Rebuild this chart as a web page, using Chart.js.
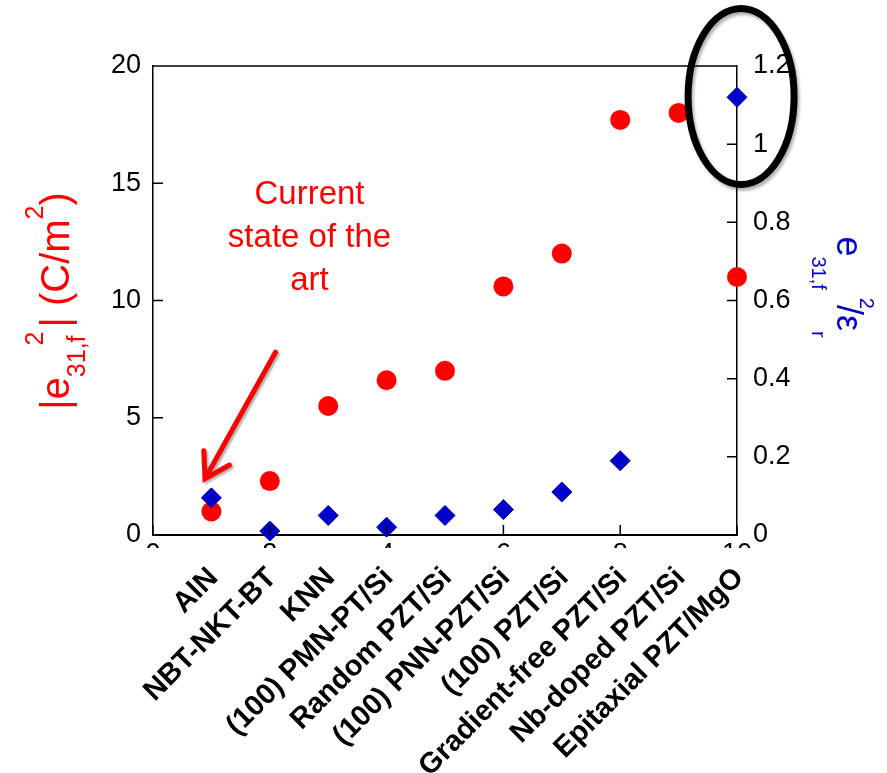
<!DOCTYPE html>
<html>
<head>
<meta charset="utf-8">
<script src="https://cdn.jsdelivr.net/npm/chart.js@4"></script>
<style>
  html, body { margin: 0; padding: 0; background: #fff; }
  #wrap { width: 887px; height: 773px; }
</style>
</head>
<body>
<div id="wrap"><canvas id="c" width="887" height="773"></canvas></div>
<script>
// films, in plotting order (x = 1..10)
const categories = ['AlN', 'NBT-NKT-BT', 'KNN', '(100) PMN-PT/Si', 'Random PZT/Si',
  '(100) PNN-PZT/Si', '(100) PZT/Si', 'Gradient-free PZT/Si', 'Nb-doped PZT/Si', 'Epitaxial PZT/MgO'];
// |e31,f|^2 (C/m2)^2, left axis
const e31Squared = [1.0, 2.3, 5.5, 6.6, 7.0, 10.6, 12.0, 17.7, 18.0, 11.0];
// e31,f^2 / eps_r, right axis (no value for Nb-doped)
const figureOfMerit = [0.095, 0.01, 0.05, 0.02, 0.05, 0.065, 0.11, 0.19, null, 1.12];
const xTickLabels = ['0', '2', '4', '6', '8', '10'];

const FONT = '"Liberation Sans", Arial, sans-serif';
const RED = '#ff0000';
const BLUE = '#0000cc';

const redPts = e31Squared.map((v, i) => ({ x: i + 1, y: v }));
const bluePts = figureOfMerit.map((v, i) => ({ x: i + 1, y: v }));

function drawRuns(ctx, runs, cx, cy, angle, color) {
  ctx.save();
  ctx.translate(cx, cy);
  ctx.rotate(angle);
  ctx.fillStyle = color;
  ctx.textAlign = 'left';
  ctx.textBaseline = 'alphabetic';
  let total = 0;
  runs.forEach(r => {
    ctx.font = r.font;
    r.w = ctx.measureText(r.t).width;
    total += r.w + (r.dx || 0);
  });
  let pos = -total / 2;
  runs.forEach(r => {
    pos += r.dx || 0;
    ctx.font = r.font;
    ctx.fillText(r.t, pos, r.dy || 0);
    pos += r.w;
  });
  ctx.restore();
}

const extras = {
  id: 'extras',
  afterDraw(chart) {
    const ctx = chart.ctx;
    const { x, y, y1 } = chart.scales;
    const a = chart.chartArea;

    // frame top + inward ticks
    ctx.save();
    ctx.strokeStyle = '#000';
    ctx.lineWidth = 1.5;
    ctx.beginPath();
    ctx.moveTo(a.left, a.top);
    ctx.lineTo(a.right, a.top);
    for (let v = 0; v <= 20; v += 5) {
      const py = y.getPixelForValue(v);
      ctx.moveTo(a.left, py); ctx.lineTo(a.left + 10, py);
    }
    for (let k = 0; k <= 6; k++) {
      const py = y1.getPixelForValue(k * 0.2);
      ctx.moveTo(a.right, py); ctx.lineTo(a.right - 10, py);
    }
    for (let v = 0; v <= 10; v += 2) {
      const px = x.getPixelForValue(v);
      ctx.moveTo(px, a.bottom); ctx.lineTo(px, a.bottom - 10);
    }
    ctx.stroke();
    ctx.restore();

    // numeric x ticks, mostly hidden behind the category labels
    ctx.save();
    ctx.beginPath();
    ctx.rect(0, a.bottom, chart.width, 13);
    ctx.clip();
    ctx.fillStyle = '#000';
    ctx.font = '27px ' + FONT;
    ctx.textAlign = 'center';
    ctx.textBaseline = 'top';
    xTickLabels.forEach(t => {
      ctx.fillText(t, x.getPixelForValue(Number(t)), a.bottom + 6);
    });
    ctx.restore();

    // category labels
    ctx.save();
    ctx.fillStyle = '#000';
    ctx.font = 'bold 29px ' + FONT;
    ctx.textAlign = 'right';
    ctx.textBaseline = 'top';
    categories.forEach((c, i) => {
      const px = x.getPixelForValue(i + 1);
      ctx.save();
      ctx.translate(px - 8, a.bottom + 28);
      ctx.rotate(-Math.PI / 4);
      ctx.fillText(c, 0, 0);
      ctx.restore();
    });
    ctx.restore();

    // axis titles
    const big = 40, small = 25;
    drawRuns(ctx, [
      { t: '|e', font: big + 'px ' + FONT },
      { t: '31,f', font: small + 'px ' + FONT, dy: 16 },
      { t: '2', font: small + 'px ' + FONT, dy: -26, dx: -10 },
      { t: '| (C/m', font: big + 'px ' + FONT, dx: 4 },
      { t: '2', font: small + 'px ' + FONT, dy: -26 },
      { t: ')', font: big + 'px ' + FONT }
    ], 69, 301, -Math.PI / 2, RED);

    drawRuns(ctx, [
      { t: 'e', font: '36px ' + FONT },
      { t: '31,f', font: '20px ' + FONT, dy: 25 },
      { t: '2', font: '20px ' + FONT, dy: -23, dx: 8 },
      { t: '/\u03b5', font: '36px ' + FONT, dx: -4 },
      { t: 'r', font: '20px ' + FONT, dy: 25 }
    ], 837, 287, Math.PI / 2, BLUE);

    // annotation text
    ctx.save();
    ctx.fillStyle = RED;
    ctx.font = '33px ' + FONT;
    ctx.textAlign = 'center';
    ctx.textBaseline = 'middle';
    const tx = x.getPixelForValue(2.68);
    ['Current', 'state of the', 'art'].forEach((t, i) => {
      ctx.fillText(t, tx, y.getPixelForValue(14.5) + i * 43);
    });
    ctx.restore();

    // arrow
    const x0 = x.getPixelForValue(2.1), y0 = y.getPixelForValue(7.8);
    const x1 = x.getPixelForValue(0.89), y1p = y.getPixelForValue(2.4);
    const ang = Math.atan2(y1p - y0, x1 - x0);
    ctx.save();
    ctx.shadowColor = 'rgba(0,0,0,0.3)';
    ctx.shadowOffsetX = 2; ctx.shadowOffsetY = 2; ctx.shadowBlur = 2;
    ctx.strokeStyle = RED;
    ctx.lineWidth = 5;
    ctx.lineCap = 'round';
    ctx.beginPath();
    ctx.moveTo(x0, y0);
    ctx.lineTo(x1, y1p);
    ctx.moveTo(x1 + 28 * Math.cos(ang + Math.PI - 0.55), y1p + 28 * Math.sin(ang + Math.PI - 0.55));
    ctx.lineTo(x1, y1p);
    ctx.lineTo(x1 + 28 * Math.cos(ang + Math.PI + 0.55), y1p + 28 * Math.sin(ang + Math.PI + 0.55));
    ctx.stroke();
    ctx.restore();

    // ellipse around the epitaxial film
    ctx.save();
    ctx.shadowColor = 'rgba(0,0,0,0.3)';
    ctx.shadowOffsetX = 2; ctx.shadowOffsetY = 3; ctx.shadowBlur = 3;
    ctx.strokeStyle = '#000';
    ctx.lineWidth = 7;
    ctx.beginPath();
    ctx.ellipse(x.getPixelForValue(10.07), y.getPixelForValue(18.7), 53, 88, 0, 0, Math.PI * 2);
    ctx.stroke();
    ctx.restore();
  }
};

new Chart(document.getElementById('c'), {
  type: 'scatter',
  data: {
    datasets: [
      {
        label: 'e31f2/er',
        data: bluePts,
        yAxisID: 'y1',
        pointStyle: 'rectRot',
        pointRadius: 10,
        backgroundColor: BLUE,
        borderColor: '#000099',
        borderWidth: 1,
        clip: false
      },
      {
        label: '|e31f|2',
        data: redPts,
        yAxisID: 'y',
        pointStyle: 'circle',
        pointRadius: 10,
        backgroundColor: RED,
        borderColor: RED,
        borderWidth: 0,
        clip: false
      }
    ]
  },
  options: {
    responsive: false,
    animation: false,
    devicePixelRatio: 1,
    layout: { padding: { top: 66, left: 0, right: 0, bottom: 0 } },
    plugins: { legend: { display: false }, tooltip: { enabled: false } },
    scales: {
      x: {
        type: 'linear', min: 0, max: 10,
        ticks: { display: false, stepSize: 2 },
        grid: { display: false },
        border: { display: true, color: '#000', width: 2 },
        afterFit(s) { s.height = 238; }
      },
      y: {
        position: 'left', min: 0, max: 20,
        ticks: { stepSize: 5, color: '#000', font: { family: FONT, size: 27 }, padding: 12 },
        grid: { drawOnChartArea: false, drawTicks: false },
        border: { display: true, color: '#000', width: 1.5 },
        afterFit(s) { s.width = 153; }
      },
      y1: {
        position: 'right', min: 0, max: 1.2,
        ticks: {
          stepSize: 0.2, color: '#000', font: { family: FONT, size: 27 }, padding: 16,
          callback: v => String(Number(v.toFixed(2)))
        },
        grid: { drawOnChartArea: false, drawTicks: false },
        border: { display: true, color: '#000', width: 1.5 },
        afterFit(s) { s.width = 150; }
      }
    }
  },
  plugins: [extras]
});
</script>
</body>
</html>
